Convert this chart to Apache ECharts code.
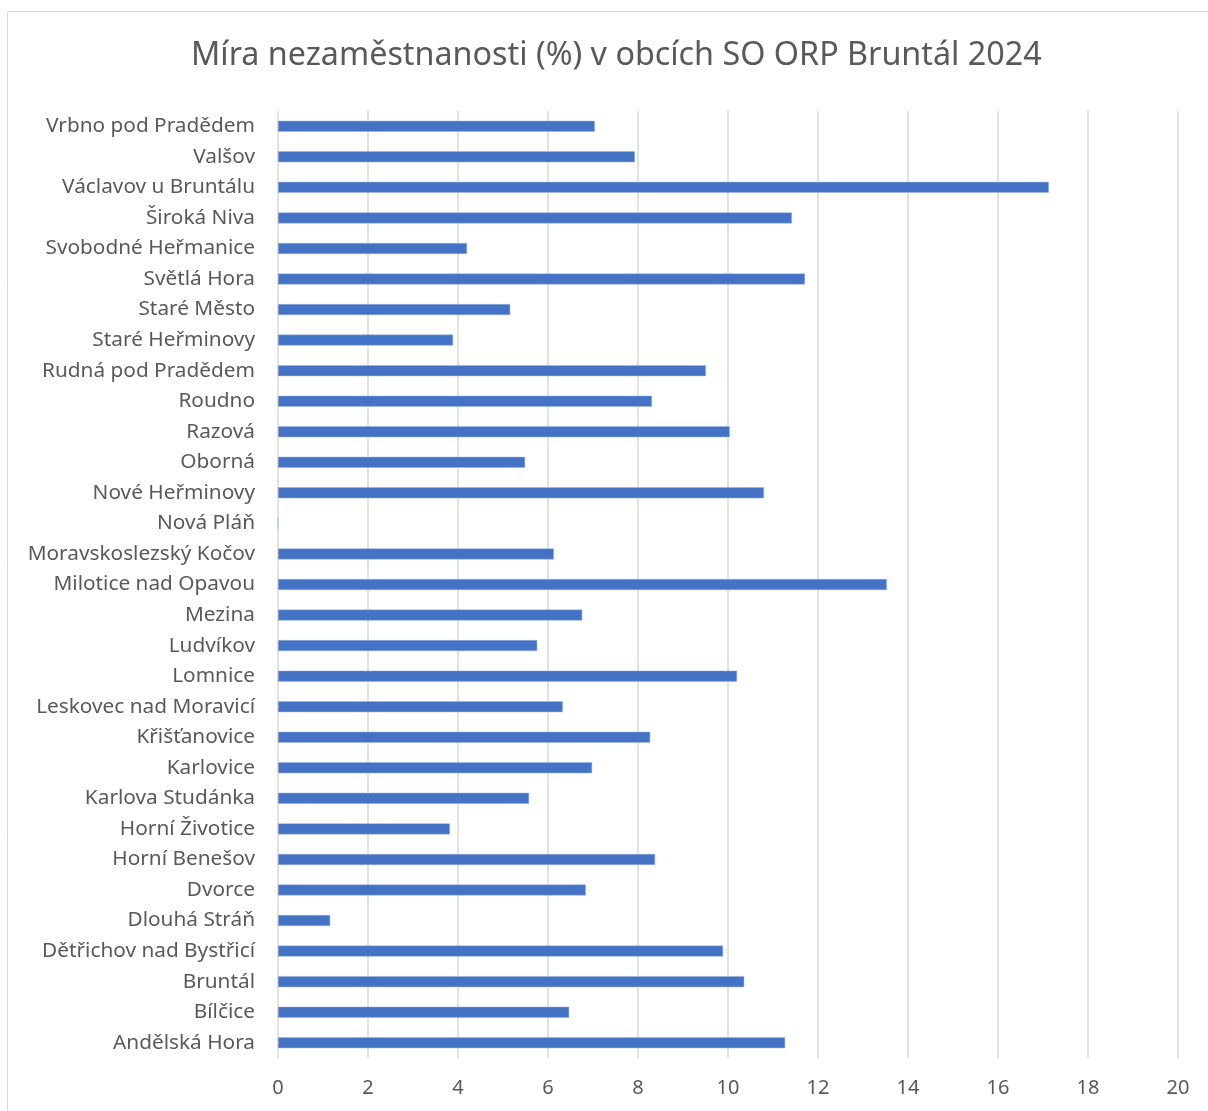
<!DOCTYPE html>
<html><head><meta charset="utf-8">
<script src="https://cdn.jsdelivr.net/npm/echarts@6/dist/echarts.min.js"></script>
<style>html,body{margin:0;padding:0;background:#fff}#c{width:1208px;height:1111px}</style>
</head><body><div id="c"></div>
<script>
const titleText = 'Míra nezaměstnanosti (%) v obcích SO ORP Bruntál 2024';
const categories = ['Vrbno pod Pradědem','Valšov','Václavov u Bruntálu','Široká Niva','Svobodné Heřmanice','Světlá Hora','Staré Město','Staré Heřminovy','Rudná pod Pradědem','Roudno','Razová','Oborná','Nové Heřminovy','Nová Pláň','Moravskoslezský Kočov','Milotice nad Opavou','Mezina','Ludvíkov','Lomnice','Leskovec nad Moravicí','Křišťanovice','Karlovice','Karlova Studánka','Horní Životice','Horní Benešov','Dvorce','Dlouhá Stráň','Dětřichov nad Bystřicí','Bruntál','Bílčice','Andělská Hora'];
const values = [7.04,7.93,17.13,11.42,4.2,11.71,5.16,3.89,9.51,8.31,10.04,5.49,10.8,0,6.13,13.53,6.76,5.76,10.2,6.33,8.27,6.98,5.58,3.82,8.38,6.84,1.16,9.89,10.36,6.47,11.27];
const xTicks = [0,2,4,6,8,10,12,14,16,18,20];

const font = '"Noto Sans", "Open Sans", sans-serif';
const chart = echarts.init(document.getElementById('c'), null, {renderer:'canvas'});
chart.setOption({
  animation:false,
  backgroundColor:'#fff',
  graphic:[{type:'rect',shape:{x:7.5,y:11.5,width:1220,height:1120},style:{fill:'none',stroke:'#d9d9d9',lineWidth:1}}],
  title:{text:titleText,left:186,top:35,textStyle:{fontFamily:font,fontSize:32.3,fontWeight:'normal',color:'#595959'}},
  grid:{left:278,right:30,top:111,bottom:53,containLabel:false},
  xAxis:{type:'value',min:xTicks[0],max:xTicks[xTicks.length-1],interval:2,
    axisLine:{show:false},axisTick:{show:false},
    axisLabel:{fontFamily:font,fontSize:20,color:'#595959',margin:20},
    splitLine:{lineStyle:{color:'#d9d9d9',width:1.5}}},
  yAxis:{type:'category',data:categories,inverse:true,
    axisLine:{show:false},axisTick:{show:false},
    axisLabel:{fontFamily:font,fontSize:20.8,color:'#595959',margin:23}},
  series:[{type:'bar',data:values,barWidth:11,
    itemStyle:{color:'#4472C4',borderColor:'#9db4e0',borderWidth:0.5}}]
});
</script></body></html>
